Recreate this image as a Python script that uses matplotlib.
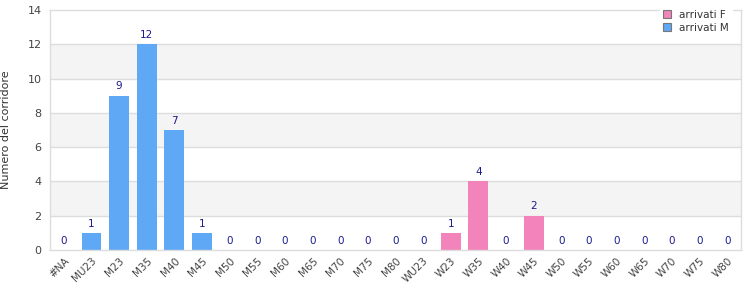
import matplotlib
matplotlib.use("Agg")
import matplotlib.pyplot as plt
from matplotlib.patches import Patch

categories = ["#NA", "MU23", "M23", "M35", "M40", "M45", "M50", "M55", "M60", "M65",
              "M70", "M75", "M80", "WU23", "W23", "W35", "W40", "W45", "W50", "W55",
              "W60", "W65", "W70", "W75", "W80"]
arrivati_M = [0, 1, 9, 12, 7, 1, 0, 0, 0, 0, 0, 0, 0, 0, 0, 0, 0, 0, 0, 0, 0, 0, 0, 0, 0]
arrivati_F = [0, 0, 0, 0, 0, 0, 0, 0, 0, 0, 0, 0, 0, 0, 1, 4, 0, 2, 0, 0, 0, 0, 0, 0, 0]
is_female = [c.startswith("W") for c in categories]

blue = "#5fa8f5"
pink = "#f283bb"
label_col = "#1a1a8c"

fig = plt.figure(figsize=(7.5, 3), dpi=100)
ax = fig.add_axes([0.0667, 0.1667, 0.9213, 0.8])

x = list(range(len(categories)))
vals = [f if w else m for m, f, w in zip(arrivati_M, arrivati_F, is_female)]
cols = [pink if w else blue for w in is_female]

ax.set_xlim(-0.5, len(categories) - 0.5)
ax.set_ylim(0, 14)

# alternating bands
for lo in (2, 6, 10):
    ax.axhspan(lo, lo + 2, color="#f4f4f4", zorder=0, lw=0)
for y in range(2, 14, 2):
    ax.axhline(y, color="#dddddd", lw=1, zorder=1)

ax.bar(x, vals, width=0.72, color=cols, zorder=2)
for xi, v in zip(x, vals):
    ax.text(xi, v + 0.25, str(v), ha="center", va="bottom", fontsize=7.5,
            color=label_col, zorder=3)

ax.set_xticks(x)
ax.set_xticklabels(categories, rotation=45, ha="right", rotation_mode="anchor",
                   fontsize=7.5, color="#444444")
ax.set_yticks(range(0, 15, 2))
ax.tick_params(axis="y", labelsize=8, colors="#444444", length=0, pad=6)
ax.tick_params(axis="x", length=0, pad=4)
ax.set_ylabel("Numero del corridore", fontsize=8, color="#333333", labelpad=12)

for s in ax.spines.values():
    s.set_color("#dddddd")
    s.set_linewidth(1)

handles = [Patch(facecolor=pink, edgecolor="#777777", lw=0.8, label="arrivati F"),
           Patch(facecolor=blue, edgecolor="#777777", lw=0.8, label="arrivati M")]
leg = ax.legend(handles=handles, loc="upper right", bbox_to_anchor=(0.995, 1.035),
                fontsize=7.5, frameon=True, facecolor="white", edgecolor="white",
                framealpha=1, handlelength=0.8, handleheight=0.8, borderpad=0.3,
                labelspacing=0.3, handletextpad=0.8, fancybox=False)
leg.set_zorder(5)
for t in leg.get_texts():
    t.set_color("#333333")

fig.savefig("out.png", dpi=100)
